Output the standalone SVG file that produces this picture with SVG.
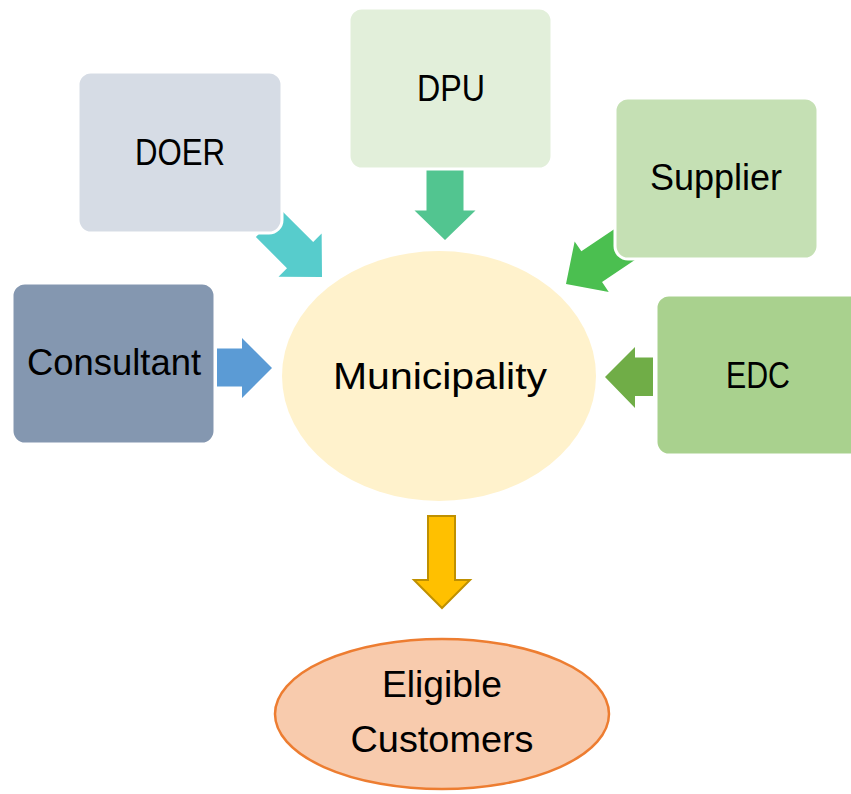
<svg xmlns="http://www.w3.org/2000/svg" width="851" height="794" viewBox="0 0 851 794">
<style>
.box{stroke:#ffffff;stroke-width:3}
.t{font-family:"Liberation Sans",Arial,sans-serif;font-size:37px;fill:#000;text-anchor:middle}
</style>
<defs>
<polygon id="arr" points="-75,-18.5 -31,-18.5 -31,-30.5 0,0 -31,30.5 -31,18.5 -75,18.5"/>
</defs>
<rect width="851" height="794" fill="#ffffff"/>
<g id="municipality">
<ellipse cx="439" cy="376" rx="157" ry="125" fill="#fff2cc"/>
<text class="t" x="440" y="389" textLength="214" lengthAdjust="spacingAndGlyphs">Municipality</text>
</g>
<g id="connectors">
<use href="#arr" transform="translate(322,277) rotate(45)" fill="#57cccc"/>
<use href="#arr" transform="translate(445,240) rotate(90) scale(0.95,1)" fill="#52c590"/>
<use href="#arr" transform="translate(566,284) rotate(146)" fill="#4bbf50"/>
<polygon points="217,348.5 242,348.5 242,338 272,368 242,398 242,386.5 217,386.5" fill="#5b9bd5"/>
<polygon points="653,357.5 635,357.5 635,347 605,377 635,408 635,396 653,396" fill="#70ad47"/>
<polygon points="428,516 455,516 455,580 470,580 442,608 414,580 428,580" fill="#ffc000" stroke="#bf9000" stroke-width="2"/>
</g>
<g id="doer">
<rect class="box" x="78" y="72" width="204" height="161" rx="13" fill="#d6dce5"/>
<text class="t" x="180" y="165" textLength="90" lengthAdjust="spacingAndGlyphs">DOER</text>
</g>
<g id="dpu">
<rect class="box" x="349" y="8" width="203" height="161" rx="13" fill="#e2efda"/>
<text class="t" x="451" y="101" textLength="68" lengthAdjust="spacingAndGlyphs">DPU</text>
</g>
<g id="supplier">
<rect class="box" x="615" y="98" width="203" height="161" rx="13" fill="#c5e0b4"/>
<text class="t" x="716" y="190" textLength="132" lengthAdjust="spacingAndGlyphs">Supplier</text>
</g>
<g id="consultant">
<rect class="box" x="12" y="283" width="203" height="161" rx="13" fill="#8497b0"/>
<text class="t" x="114" y="375" textLength="174" lengthAdjust="spacingAndGlyphs">Consultant</text>
</g>
<g id="edc">
<rect class="box" x="656" y="295" width="210" height="160" rx="13" fill="#a9d18e"/>
<text class="t" x="758" y="388" textLength="64" lengthAdjust="spacingAndGlyphs">EDC</text>
</g>
<g id="eligible-customers">
<ellipse cx="442" cy="714" rx="167" ry="75" fill="#f8cbad" stroke="#ed7d31" stroke-width="2.5"/>
<text class="t" x="442" y="697" textLength="120" lengthAdjust="spacingAndGlyphs">Eligible</text>
<text class="t" x="442" y="752" textLength="183" lengthAdjust="spacingAndGlyphs">Customers</text>
</g>
</svg>
